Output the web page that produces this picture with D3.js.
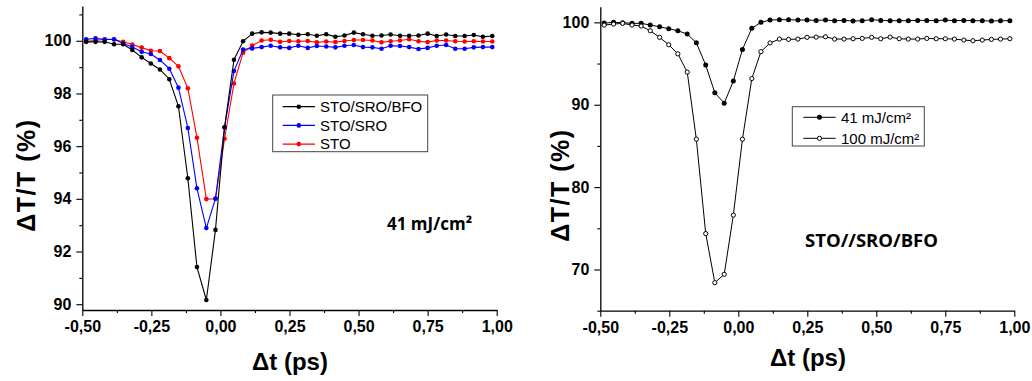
<!DOCTYPE html>
<html>
<head>
<meta charset="utf-8">
<script src="https://cdn.jsdelivr.net/npm/d3@7"></script>
<style>
  html, body { margin: 0; padding: 0; background: #fff; }
  svg { display: block; }
</style>
</head>
<body>
<script>
// ---------- DATA ----------
const delayPs = [-0.486, -0.452, -0.419, -0.385, -0.352, -0.319, -0.285, -0.252, -0.219, -0.185,
  -0.152, -0.118, -0.085, -0.051, -0.018, 0.015, 0.049, 0.082, 0.115, 0.149,
  0.182, 0.216, 0.249, 0.282, 0.316, 0.349, 0.383, 0.416, 0.449, 0.483,
  0.516, 0.550, 0.583, 0.616, 0.650, 0.683, 0.717, 0.750, 0.783, 0.817,
  0.850, 0.884, 0.917, 0.950, 0.984];

const stoSroBfo = [99.96, 99.96, 99.96, 99.87, 99.87, 99.65, 99.37, 99.14, 98.91, 98.54,
  97.51, 94.78, 91.41, 90.16, 92.82, 96.72, 99.28, 99.98, 100.27, 100.32,
  100.31, 100.27, 100.27, 100.23, 100.25, 100.19, 100.25, 100.15, 100.20, 100.31,
  100.25, 100.19, 100.20, 100.24, 100.19, 100.19, 100.20, 100.27, 100.18, 100.24,
  100.18, 100.18, 100.22, 100.15, 100.18];

const stoSro = [100.06, 100.09, 100.05, 100.06, 99.90, 99.76, 99.58, 99.50, 99.27, 98.94,
  98.22, 96.69, 94.40, 92.89, 94.01, 96.71, 98.85, 99.67, 99.71, 99.76,
  99.81, 99.75, 99.73, 99.81, 99.73, 99.80, 99.78, 99.75, 99.81, 99.84,
  99.76, 99.75, 99.70, 99.81, 99.80, 99.76, 99.69, 99.73, 99.81, 99.84,
  99.70, 99.70, 99.75, 99.76, 99.76];

const sto = [99.98, 100.01, 100.06, 100.05, 99.96, 99.86, 99.74, 99.62, 99.61, 99.34,
  99.03, 98.20, 96.32, 93.99, 94.00, 96.28, 98.38, 99.55, 99.82, 100.01,
  100.04, 99.96, 99.99, 99.98, 99.99, 99.94, 99.97, 99.95, 99.99, 100.03,
  100.03, 100.01, 99.94, 99.98, 100.01, 100.06, 99.98, 99.95, 100.01, 100.01,
  99.98, 99.97, 99.98, 99.97, 99.97];

const fluence41 = [99.91, 100.00, 99.96, 99.88, 99.88, 99.67, 99.47, 99.22, 98.98, 98.58,
  97.52, 94.81, 91.45, 90.19, 92.87, 96.72, 99.27, 100.00, 100.28, 100.32,
  100.32, 100.28, 100.28, 100.24, 100.28, 100.20, 100.24, 100.16, 100.20, 100.32,
  100.24, 100.20, 100.20, 100.20, 100.24, 100.24, 100.20, 100.28, 100.20, 100.24,
  100.20, 100.20, 100.16, 100.20, 100.20];

const fluence100 = [99.67, 99.79, 99.88, 99.67, 99.55, 98.98, 98.18, 97.28, 96.18, 93.96,
  85.82, 74.36, 68.40, 69.42, 76.60, 85.82, 93.18, 96.44, 97.50, 97.97,
  97.93, 97.97, 98.18, 98.21, 98.25, 97.97, 97.97, 98.01, 98.05, 98.18,
  98.01, 98.21, 98.01, 97.97, 97.97, 98.05, 98.01, 98.01, 97.97, 97.85,
  97.77, 97.85, 97.93, 97.97, 98.01];

const xTicks = [-0.5, -0.25, 0, 0.25, 0.5, 0.75, 1.0];
const xMinorTicks = [-0.375, -0.125, 0.125, 0.375, 0.625, 0.875];
const leftYTicks = [90, 92, 94, 96, 98, 100];
const leftYMinor = [91, 93, 95, 97, 99, 101];
const rightYTicks = [70, 80, 90, 100];
const rightYMinor = [65, 75, 85, 95];

const leftSeries = [
  { name: "STO/SRO/BFO", values: stoSroBfo, color: "#000000" },
  { name: "STO/SRO", values: stoSro, color: "#0000ff" },
  { name: "STO", values: sto, color: "#ff0000" }
];
const rightSeries = [
  { name: "41 mJ/cm²", values: fluence41, filled: true },
  { name: "100 mJ/cm²", values: fluence100, filled: false }
];

// ---------- DRAW ----------
const svg = d3.select("body").append("svg").attr("width", 1032).attr("height", 381);
const tickFont = "'Liberation Sans', Arial, sans-serif";
const fmtX = d => d3.format(".2f")(d).replace("−", "-").replace(".", ",");

function drawAxes(xs, ys, yTicks, yMinor) {
  const y0 = ys.range()[0], x0 = xs.range()[0];
  const gx = svg.append("g").attr("transform", `translate(0,${y0})`)
    .call(d3.axisBottom(xs).tickValues(xTicks).tickFormat(fmtX).tickSize(6).tickSizeOuter(0).tickPadding(5));
  svg.append("g").attr("transform", `translate(0,${y0})`)
    .call(d3.axisBottom(xs).tickValues(xMinorTicks).tickFormat("").tickSize(3).tickSizeOuter(0))
    .select(".domain").remove();
  const gy = svg.append("g").attr("transform", `translate(${x0},0)`)
    .call(d3.axisLeft(ys).tickValues(yTicks).tickFormat(d3.format("d")).tickSize(6).tickSizeOuter(0).tickPadding(5));
  svg.append("g").attr("transform", `translate(${x0},0)`)
    .call(d3.axisLeft(ys).tickValues(yMinor).tickFormat("").tickSize(3).tickSizeOuter(0))
    .select(".domain").remove();
  [gx, gy].forEach(g => {
    g.selectAll("text").style("font-family", tickFont).style("font-size", "16px").style("font-weight", "bold").attr("fill", "#000");
  });
  svg.selectAll(".domain").attr("stroke", "#000").attr("stroke-width", 1.3);
  svg.selectAll(".tick line").attr("stroke", "#000").attr("stroke-width", 1.1);
}

// Left panel
const xL = d3.scaleLinear().domain([-0.5, 1.0]).range([82.3, 496.7]);
const yL = d3.scaleLinear().domain([89.78, 101.32]).range([310, 6]);
drawAxes(xL, yL, leftYTicks, leftYMinor);

const lineL = d3.line().x((d, i) => xL(delayPs[i])).y(d => yL(d));
leftSeries.slice().reverse().forEach(s => {
  svg.append("path").datum(s.values).attr("d", lineL)
    .attr("fill", "none").attr("stroke", s.color).attr("stroke-width", 1.1);
  svg.append("g").selectAll("circle").data(s.values).join("circle")
    .attr("cx", (d, i) => xL(delayPs[i])).attr("cy", d => yL(d))
    .attr("r", 2.3).attr("fill", s.color);
});

// Left legend
const legL = svg.append("g");
legL.append("rect").attr("x", 272.7).attr("y", 95).attr("width", 155).attr("height", 56.7)
  .attr("fill", "#fff").attr("stroke", "#444").attr("stroke-width", 1);
leftSeries.forEach((s, i) => {
  const cy = 106.7 + i * 18.7;
  legL.append("line").attr("x1", 282.7).attr("x2", 315).attr("y1", cy).attr("y2", cy)
    .attr("stroke", s.color).attr("stroke-width", 1.2);
  legL.append("circle").attr("cx", 298.8).attr("cy", cy).attr("r", 2.3).attr("fill", s.color);
  legL.append("text").attr("x", 320).attr("y", cy + 5.3).text(s.name)
    .style("font-family", tickFont).style("font-size", "15px").attr("fill", "#000");
});

svg.append("text").attr("x", 387).attr("y", 230).text("41 mJ/cm²")
  .style("font-family", "'Open Sans', sans-serif").style("font-weight", "bold").style("font-size", "17px");

// Right panel
const xR = d3.scaleLinear().domain([-0.5, 1.0]).range([600.3, 1014.3]);
const yR = d3.scaleLinear().domain([65, 101.9]).range([310.7, 6.7]);
drawAxes(xR, yR, rightYTicks, rightYMinor);

const lineR = d3.line().x((d, i) => xR(delayPs[i])).y(d => yR(d));
rightSeries.forEach(s => {
  svg.append("path").datum(s.values).attr("d", lineR)
    .attr("fill", "none").attr("stroke", "#000").attr("stroke-width", 1);
  svg.append("g").selectAll("circle").data(s.values).join("circle")
    .attr("cx", (d, i) => xR(delayPs[i])).attr("cy", d => yR(d))
    .attr("r", s.filled ? 2.5 : 2.1)
    .attr("fill", s.filled ? "#000" : "#fff")
    .attr("stroke", "#000").attr("stroke-width", s.filled ? 0 : 1);
});

const legR = svg.append("g");
legR.append("rect").attr("x", 792.3).attr("y", 106.7).attr("width", 132).attr("height", 39.3)
  .attr("fill", "#fff").attr("stroke", "#444").attr("stroke-width", 1);
rightSeries.forEach((s, i) => {
  const cy = 117.3 + i * 21;
  legR.append("line").attr("x1", 803.3).attr("x2", 835.7).attr("y1", cy).attr("y2", cy)
    .attr("stroke", "#000").attr("stroke-width", 1);
  legR.append("circle").attr("cx", 819.5).attr("cy", cy).attr("r", s.filled ? 2.5 : 2.1)
    .attr("fill", s.filled ? "#000" : "#fff").attr("stroke", "#000").attr("stroke-width", s.filled ? 0 : 1);
  legR.append("text").attr("x", 841).attr("y", cy + 5.3).text(s.name)
    .style("font-family", tickFont).style("font-size", "15px").attr("fill", "#000");
});

svg.append("text").attr("x", 805).attr("y", 247).text("STO//SRO/BFO")
  .style("font-family", "'Open Sans', sans-serif").style("font-weight", "bold").style("font-size", "18.5px");

// Axis titles
const titleStyle = sel => sel.style("font-family", tickFont).style("font-weight", "bold").style("font-size", "24px").attr("fill", "#000");
svg.append("text").attr("x", 290).attr("y", 370).attr("text-anchor", "middle").text("Δt (ps)").call(titleStyle);
svg.append("text").attr("x", 808).attr("y", 366).attr("text-anchor", "middle").text("Δt (ps)").call(titleStyle);
svg.append("text").attr("transform", "translate(35,175) rotate(-90)").attr("text-anchor", "middle").text("ΔT/T (%)").call(titleStyle).style("font-size", "25px").style("letter-spacing", "1.5px");
svg.append("text").attr("transform", "translate(569,185) rotate(-90)").attr("text-anchor", "middle").text("ΔT/T (%)").call(titleStyle).style("font-size", "25px").style("letter-spacing", "1.5px");
</script>
</body>
</html>
